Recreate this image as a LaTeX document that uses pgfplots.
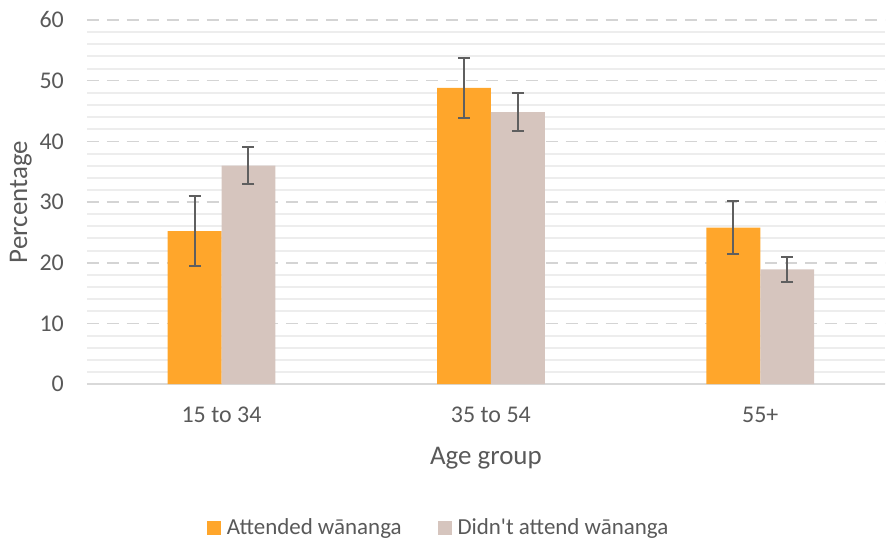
\documentclass[border=0pt]{standalone}
\usepackage{fontspec}
\setmainfont{Carlito}[Ligatures=TeXOff]
\usepackage{pgfplots}
\pgfplotsset{compat=1.18}
\definecolor{attended}{HTML}{FFA62B}
\definecolor{notatt}{HTML}{D6C5BE}
\definecolor{txt}{HTML}{595959}
\definecolor{errc}{HTML}{5F5F5F}

\begin{document}
\begin{tikzpicture}
\begin{axis}[
  scale only axis,
  width=400pt, height=182.5pt,
  ybar=0pt, bar width=27pt,
  xmin=-0.5, xmax=2.463,
  ymin=0, ymax=60,
  xtick={0,1,2},
  xticklabels={15 to 34, 35 to 54, 55+},
  ytick={0,10,...,60},
  minor y tick num=4,
  major tick length=0pt, minor tick length=0pt,
  axis x line=bottom, axis y line=left,
  x axis line style={-, color=black!15, line width=1pt},
  y axis line style={draw=none},
  ymajorgrids, yminorgrids,
  major grid style={dashed, dash pattern=on 6pt off 4pt, color=black!17, line width=0.8pt},
  minor grid style={solid, color=black!7, line width=1pt},
  ticklabel style={font=\fontsize{12}{14}\selectfont, text=txt},
  /pgf/number format/assume math mode=true,
  yticklabel style={xshift=-8pt},
  xticklabel style={yshift=-8pt},
  xlabel={Age group}, ylabel={Percentage},
  label style={font=\fontsize{13.5}{16}\selectfont, text=txt},
  xlabel style={yshift=-5.5pt},
  ylabel style={yshift=-3pt},
  legend columns=2,
  legend style={draw=none, at={(0.442,-0.395)}, anchor=center,
    font=\fontsize{11.5}{13}\selectfont, text=txt,
    /tikz/every even column/.append style={column sep=16pt},
    /tikz/every odd column/.append style={column sep=1pt}},
  legend image code/.code={\fill[#1] (0pt,-3.5pt) rectangle (7pt,3.5pt);},
  error bars/y dir=both, error bars/y explicit,
  error bars/error bar style={line width=1pt, color=errc},
  error bars/error mark options={rotate=90, mark size=3pt, line width=1pt, color=errc},
]
\addplot[fill=attended, draw=none] coordinates {
  (0,25.2) +- (0,5.8)
  (1,48.8) +- (0,4.9)
  (2,25.8) +- (0,4.4)
};
\addlegendentry{Attended wānanga}
\addplot[fill=notatt, draw=none] coordinates {
  (0,36.0) +- (0,3.0)
  (1,44.8) +- (0,3.1)
  (2,18.9) +- (0,2.1)
};
\addlegendentry{Didn't attend wānanga}
\end{axis}
\pgfresetboundingbox
\path[use as bounding box] (-43.5pt,-79pt) rectangle (400.5pt,192.5pt);
\end{tikzpicture}
\end{document}
